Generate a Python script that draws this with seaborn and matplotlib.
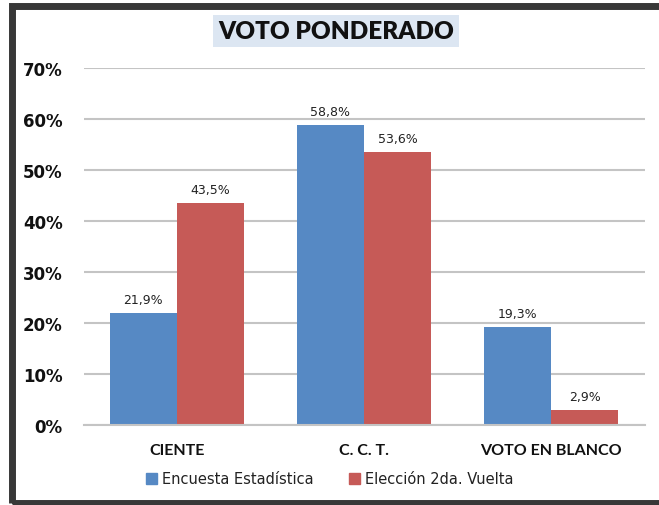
import matplotlib
matplotlib.use("Agg")
import matplotlib.pyplot as plt
import matplotlib.patches as mpatches
import seaborn as sns
import pandas as pd

categories = ["CIENTE", "C. C. T.", "VOTO EN BLANCO"]
series_names = ["Encuesta Estadística", "Elección 2da. Vuelta"]
encuesta = [0.219, 0.588, 0.193]
eleccion = [0.435, 0.536, 0.029]
yticks = [0, 0.1, 0.2, 0.3, 0.4, 0.5, 0.6, 0.7]
ytick_labels = ["0%", "10%", "20%", "30%", "40%", "50%", "60%", "70%"]
colors = ["#5689C4", "#C65A57"]

df = pd.DataFrame({
    "cat": categories * 2,
    "serie": [series_names[0]] * 3 + [series_names[1]] * 3,
    "val": encuesta + eleccion,
})

sns.set_theme(style="white")
plt.rcParams["font.family"] = ["DejaVu Sans"]

W, H = 659, 506
fig = plt.figure(figsize=(W / 100, H / 100), dpi=100)
ax = fig.add_axes([83.5 / W, 1 - 426 / H, (644.5 - 83.5) / W, (426 - 69) / H])

sns.barplot(data=df, x="cat", y="val", hue="serie", palette=colors,
            width=0.72, ax=ax, legend=False, saturation=1, errorbar=None,
            order=categories, hue_order=series_names, linewidth=0)

ax.set_ylim(0, 0.7)
ax.set_yticks(yticks)
ax.set_yticklabels(ytick_labels, fontsize=12, fontweight="bold", color="#111111")
ax.yaxis.grid(True, color="#C4C4C4", linewidth=1.5)
ax.set_axisbelow(True)
for s in ["top", "right", "left"]:
    ax.spines[s].set_visible(False)
ax.spines["bottom"].set_color("#C4C4C4")
ax.spines["bottom"].set_linewidth(1.5)
ax.tick_params(axis="y", length=0, pad=15)
ax.tick_params(axis="x", length=0, pad=13)
ax.set_xlabel("")
ax.set_ylabel("")
ax.set_xticks(range(len(categories)))
ax.set_xticklabels(categories, fontsize=11.5, fontweight="bold",
                   family=["Lato", "DejaVu Sans"], color="#111111")

for cont in ax.containers:
    labels = [f"{v * 100:.1f}%".replace(".", ",") for v in cont.datavalues]
    ax.bar_label(cont, labels=labels, padding=5, fontsize=9, color="#222222")

# title with background box
fig.text(336 / W, 1 - 32 / H, "VOTO PONDERADO", ha="center", va="center",
         fontsize=17.5, fontweight="heavy", family=["Lato", "DejaVu Sans"],
         color="#111111",
         bbox=dict(boxstyle="square,pad=0.2", facecolor="#DCE6F2", edgecolor="none"))

# legend
handles = [mpatches.Patch(color=c, label=n) for c, n in zip(colors, series_names)]
fig.legend(handles=handles, loc="center", bbox_to_anchor=(330 / W, 1 - 480 / H),
           ncol=2, frameon=False, prop={"family": "DejaVu Sans", "size": 10.5},
           handlelength=0.75, handleheight=0.75,
           handletextpad=0.35, columnspacing=2.4, labelcolor="#222222")

# border
fig.patches.append(mpatches.Rectangle((11.5 / W, 1 - 504 / H), 1.2, (504 - 6.5) / H,
                                      transform=fig.transFigure, fill=False,
                                      edgecolor="#383838", linewidth=5, zorder=10))

fig.savefig("out.png", dpi=100)
